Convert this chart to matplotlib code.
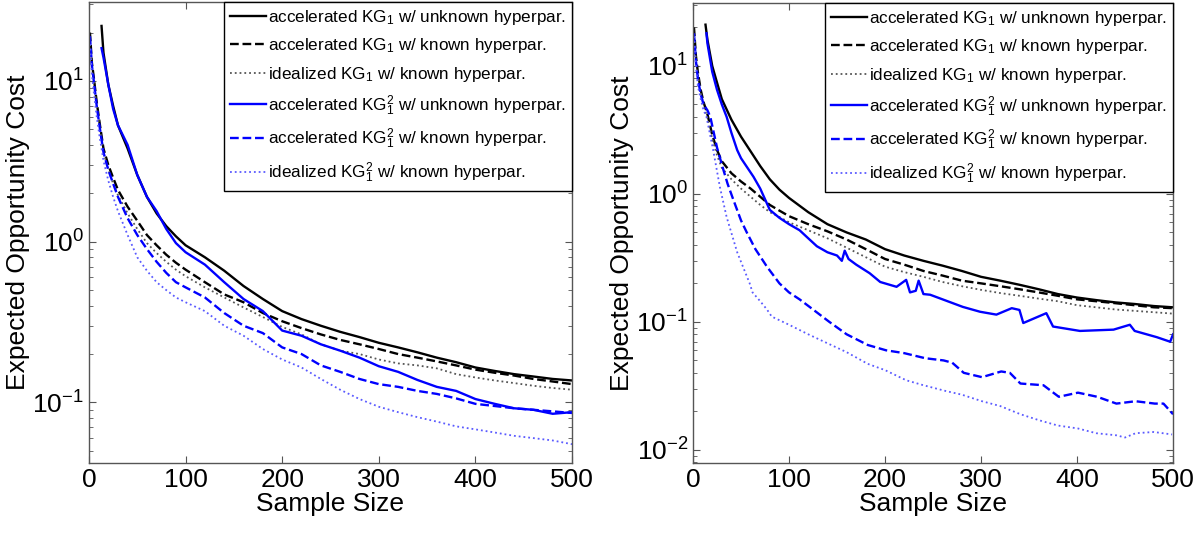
import matplotlib
matplotlib.use("Agg")
import matplotlib.pyplot as plt

plt.rcParams["font.family"] = ["Liberation Sans", "DejaVu Sans"]
plt.rcParams["mathtext.fontset"] = "custom"
plt.rcParams["mathtext.rm"] = "Liberation Sans"
plt.rcParams["mathtext.it"] = "Liberation Sans:italic"
plt.rcParams["mathtext.bf"] = "Liberation Sans:bold"

# ── data ──────────────────────────────────────────────────────────────────────

X_KNOWN = [1, 3, 5, 8, 11, 15, 20, 25, 30, 40, 50, 60, 70, 80, 90, 100, 120, 140,
           160, 180, 200, 220, 240, 260, 280, 300, 320, 340, 360, 380, 400, 420,
           440, 460, 480, 500]
X_UNKNOWN = [13, 15, 20, 25, 30, 40, 50, 60, 70, 80, 90, 100, 120, 140, 160, 180,
             200, 220, 240, 260, 280, 300, 320, 340, 360, 380, 400, 420, 440, 460,
             480, 500]

# left panel
left_kg_unknown = [22, 15, 9.5, 7.0, 5.3, 3.8, 2.6, 1.9, 1.5, 1.25, 1.08, 0.95, 0.80,
                   0.66, 0.53, 0.44, 0.37, 0.33, 0.30, 0.275, 0.255, 0.235, 0.22,
                   0.205, 0.19, 0.178, 0.165, 0.157, 0.15, 0.145, 0.14, 0.137]
left_kg_known = [20, 13, 10.5, 7.4, 5.5, 3.8, 3.0, 2.5, 2.1, 1.65, 1.35, 1.1, 0.95,
                 0.83, 0.74, 0.67, 0.56, 0.47, 0.42, 0.36, 0.32, 0.29, 0.265, 0.245,
                 0.23, 0.215, 0.20, 0.19, 0.18, 0.17, 0.16, 0.153, 0.147, 0.14, 0.135,
                 0.13]
left_kg_ideal = [17, 12, 9.5, 7.0, 5.2, 3.6, 2.8, 2.3, 1.95, 1.5, 1.2, 0.98, 0.85,
                 0.75, 0.67, 0.61, 0.52, 0.45, 0.39, 0.34, 0.295, 0.265, 0.23, 0.21,
                 0.20, 0.185, 0.175, 0.17, 0.163, 0.15, 0.143, 0.137, 0.132, 0.127,
                 0.123, 0.12]
left_kg2_unknown = [16, 14, 9.5, 6.7, 5.3, 4.0, 2.6, 1.9, 1.55, 1.2, 0.98, 0.86,
                    0.72, 0.56, 0.44, 0.37, 0.28, 0.26, 0.23, 0.21, 0.19, 0.168,
                    0.155, 0.138, 0.125, 0.118, 0.105, 0.098, 0.092, 0.09, 0.085,
                    0.087]
left_kg2_known = [19, 12.5, 10, 7.0, 5.2, 3.6, 2.8, 2.3, 1.9, 1.4, 1.1, 0.9, 0.75,
                  0.64, 0.56, 0.52, 0.45, 0.36, 0.30, 0.27, 0.22, 0.20, 0.17, 0.155,
                  0.14, 0.13, 0.125, 0.118, 0.113, 0.106, 0.098, 0.095, 0.092, 0.09,
                  0.088, 0.086]
left_kg2_ideal = [17, 11, 8.5, 6.0, 4.5, 3.2, 2.4, 1.9, 1.55, 1.1, 0.8, 0.66, 0.56,
                  0.50, 0.45, 0.42, 0.37, 0.30, 0.26, 0.215, 0.185, 0.165, 0.14,
                  0.12, 0.105, 0.094, 0.087, 0.081, 0.076, 0.071, 0.068, 0.065,
                  0.062, 0.06, 0.058, 0.055]

# right panel
right_kg_unknown = [21, 16, 10, 7.4, 5.5, 3.8, 2.8, 2.15, 1.65, 1.3, 1.08, 0.93,
                    0.72, 0.58, 0.50, 0.44, 0.37, 0.33, 0.30, 0.275, 0.25, 0.225,
                    0.21, 0.195, 0.18, 0.165, 0.155, 0.148, 0.142, 0.138, 0.133, 0.13]
right_kg_known = [20, 12, 9, 6.5, 5.2, 4.2, 2.9, 2.2, 1.8, 1.45, 1.25, 1.1, 0.95,
                  0.82, 0.74, 0.67, 0.58, 0.51, 0.44, 0.37, 0.31, 0.28, 0.25, 0.23,
                  0.21, 0.20, 0.19, 0.18, 0.17, 0.16, 0.15, 0.145, 0.14, 0.135, 0.13,
                  0.128]
right_kg_ideal = [17, 11, 8.5, 6.2, 5.0, 3.9, 2.7, 2.0, 1.6, 1.3, 1.1, 0.95, 0.82,
                  0.72, 0.66, 0.60, 0.52, 0.45, 0.38, 0.32, 0.27, 0.245, 0.225, 0.205,
                  0.19, 0.178, 0.168, 0.16, 0.152, 0.145, 0.135, 0.13, 0.125, 0.122,
                  0.119, 0.116]

X_R_KG2_UNKNOWN = [14, 15, 20, 25, 30, 35, 40, 46, 50, 63, 70, 80, 90, 100, 111, 120,
                   129, 140, 150, 155, 158, 162, 170, 184, 195, 212, 222, 226, 232,
                   235, 240, 247, 281, 299, 316, 332, 340, 344, 368, 375, 403, 438,
                   455, 460, 483, 497, 500]
right_kg2_unknown = [18, 15, 9, 6.5, 5, 4.0, 3.0, 2.2, 1.9, 1.36, 1.1, 0.75, 0.65,
                     0.58, 0.52, 0.45, 0.39, 0.35, 0.33, 0.30, 0.36, 0.31, 0.28, 0.24,
                     0.205, 0.188, 0.213, 0.17, 0.175, 0.21, 0.165, 0.163, 0.131, 0.12,
                     0.114, 0.128, 0.124, 0.098, 0.117, 0.092, 0.085, 0.087, 0.095,
                     0.085, 0.076, 0.07, 0.08]

X_R_KG2_KNOWN = [1, 3, 5, 8, 11, 15, 18, 25, 31, 36, 42, 50, 56, 65, 77, 90, 100, 111,
                 125, 142, 160, 182, 201, 220, 242, 261, 270, 282, 301, 321, 330, 341,
                 365, 381, 401, 421, 441, 461, 481, 490, 500]
right_kg2_known = [18, 11, 8, 6, 5, 4.5, 4.0, 2.3, 1.6, 1.2, 0.9, 0.62, 0.50, 0.37,
                   0.27, 0.2, 0.17, 0.15, 0.125, 0.1, 0.08, 0.066, 0.06, 0.057, 0.052,
                   0.05, 0.048, 0.04, 0.037, 0.041, 0.04, 0.033, 0.032, 0.026, 0.028,
                   0.026, 0.023, 0.024, 0.023, 0.023, 0.019]

X_R_KG2_IDEAL = [1, 3, 5, 8, 11, 14, 21, 28, 35, 46, 52, 59, 62, 70, 77, 82, 100, 120,
                 142, 160, 182, 200, 222, 240, 262, 280, 301, 320, 341, 361, 380, 401,
                 420, 441, 450, 461, 480, 499]
right_kg2_ideal = [17, 10, 7, 5.5, 4.5, 4.0, 2.2, 1.13, 0.66, 0.35, 0.27, 0.20, 0.17,
                   0.145, 0.125, 0.11, 0.095, 0.08, 0.067, 0.058, 0.047, 0.042, 0.035,
                   0.032, 0.029, 0.027, 0.024, 0.022, 0.019, 0.017, 0.0155, 0.0147,
                   0.0135, 0.013, 0.0125, 0.0135, 0.0138, 0.0132]

LABELS = [
    r"accelerated KG$_1$ w/ unknown hyperpar.",
    r"accelerated KG$_1$ w/ known hyperpar.",
    r"idealized KG$_1$ w/ known hyperpar.",
    r"accelerated KG$_1^2$ w/ unknown hyperpar.",
    r"accelerated KG$_1^2$ w/ known hyperpar.",
    r"idealized KG$_1^2$ w/ known hyperpar.",
]

BLUE = "#0000ff"
STYLES = [
    dict(color="black", ls="-", lw=1.7),
    dict(color="black", ls="--", lw=1.7),
    dict(color="#555555", ls=":", lw=1.3),
    dict(color=BLUE, ls="-", lw=1.7),
    dict(color=BLUE, ls="--", lw=1.7),
    dict(color="#5a5aff", ls=":", lw=1.3),
]


def draw_panel(ax, series, ylim):
    for (x, y), label, st in zip(series, LABELS, STYLES):
        ax.plot(x, y, label=label, **st)
    ax.set_yscale("log")
    ax.set_xlim(0, 500)
    ax.set_ylim(*ylim)
    ax.set_xticks([0, 100, 200, 300, 400, 500])
    ax.tick_params(which="both", direction="in", top=True, right=True,
                   labelsize=19, color="#555555")
    ax.tick_params(which="major", length=5)
    ax.tick_params(which="minor", length=3)
    for sp in ax.spines.values():
        sp.set_color("#555555")
        sp.set_linewidth(1.0)
    ax.set_xlabel("Sample Size", fontsize=19, labelpad=0)
    ax.set_ylabel("Expected Opportunity Cost", fontsize=19, labelpad=2)
    leg = ax.legend(loc="upper right", fontsize=12.3, frameon=True, fancybox=False,
                    framealpha=1, edgecolor="black", borderaxespad=0,
                    handlelength=2.1, handletextpad=0.1, labelspacing=0.55,
                    borderpad=0.35)
    leg.get_frame().set_linewidth(1.0)


fig = plt.figure(figsize=(12.04, 5.37), dpi=100)
ax1 = fig.add_axes([0.0739, 0.1378, 0.4012, 0.8585])
ax2 = fig.add_axes([0.5756, 0.1378, 0.3987, 0.8566])

draw_panel(ax1, [(X_UNKNOWN, left_kg_unknown), (X_KNOWN, left_kg_known),
                 (X_KNOWN, left_kg_ideal), (X_UNKNOWN, left_kg2_unknown),
                 (X_KNOWN, left_kg2_known), (X_KNOWN, left_kg2_ideal)],
           (0.042, 31))
draw_panel(ax2, [(X_UNKNOWN, right_kg_unknown), (X_KNOWN, right_kg_known),
                 (X_KNOWN, right_kg_ideal), (X_R_KG2_UNKNOWN, right_kg2_unknown),
                 (X_R_KG2_KNOWN, right_kg2_known), (X_R_KG2_IDEAL, right_kg2_ideal)],
           (0.0079, 31))

fig.savefig("out.png", dpi=100)
plt.close(fig)
